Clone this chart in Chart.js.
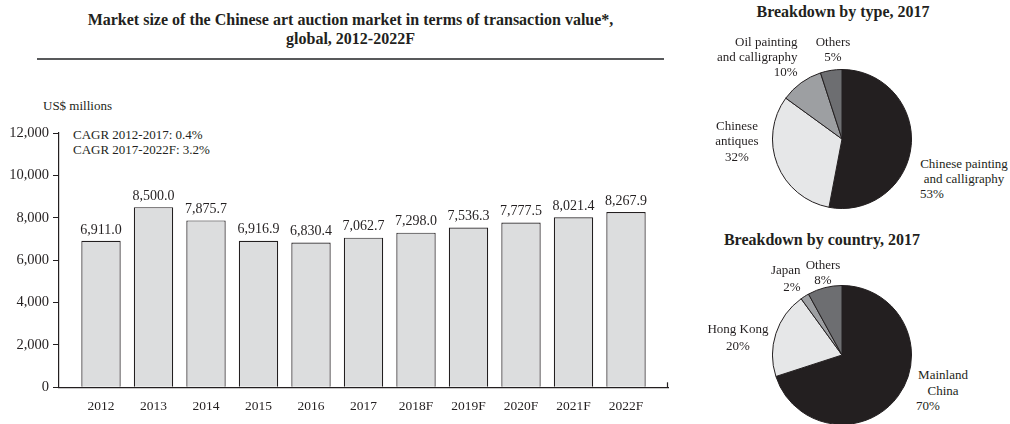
<!DOCTYPE html>
<html>
<head>
<meta charset="utf-8">
<script src="https://cdn.jsdelivr.net/npm/chart.js@4.4.0/dist/chart.umd.min.js"></script>
<style>
  body { margin: 0; width: 1010px; height: 424px; overflow: hidden; background: #fff;
         font-family: 'Liberation Serif', 'Times New Roman', serif; color: #231f20; }
  canvas { position: absolute; }
  .txt { position: absolute; font-size: 13px; line-height: 15px; white-space: nowrap; }
  .ttl { position: absolute; font-weight: bold; font-size: 16px; white-space: nowrap; }
</style>
</head>
<body>

<div class="ttl" style="left:37px; top:10px; width:627px; text-align:center; line-height:19px;">
  Market size of the Chinese art auction market in terms of transaction value*,<br>global, 2012-2022F
</div>
<div style="position:absolute; left:37px; top:58px; width:627px; height:1.5px; background:#58595b;"></div>
<div class="txt" style="left:43px; top:98px;">US$ millions</div>
<div class="txt" style="left:73px; top:126.5px;">CAGR 2012-2017: 0.4%<br>CAGR 2017-2022F: 3.2%</div>

<canvas id="barChart" width="680" height="424" style="left:0; top:0;"></canvas>

<div class="ttl" style="left:743px; top:3px; width:200px; text-align:center;">Breakdown by type, 2017</div>
<canvas id="typeChart" width="140" height="140" style="left:772px; top:69px;"></canvas>
<div class="txt" style="right:212.5px; top:34px; text-align:right;">Oil painting<br>and calligraphy<br>10%</div>
<div class="txt" style="left:803px; top:34px; width:60px; text-align:center;">Others<br>5%</div>
<div class="txt" style="left:697px; top:117.5px; width:80px; text-align:center; line-height:15.7px;">Chinese<br>antiques<br>32%</div>
<div class="txt" style="left:920px; top:155.5px; width:88px; text-align:center; line-height:15.4px;">Chinese painting<br>and calligraphy<br><span style="display:block; text-align:left;">53%</span></div>

<div class="ttl" style="left:712px; top:231px; width:220px; text-align:center;">Breakdown by country, 2017</div>
<canvas id="countryChart" width="140" height="140" style="left:772px; top:285px;"></canvas>
<div class="txt" style="right:209.5px; top:261px; text-align:right; line-height:17px;">Japan<br>2%</div>
<div class="txt" style="left:797px; top:257px; width:52px; text-align:center;">Others<br>8%</div>
<div class="txt" style="left:688px; top:320px; width:100px; text-align:center; line-height:17px;">Hong Kong<br>20%</div>
<div class="txt" style="left:916px; top:367px; width:54px; text-align:center; line-height:15.6px;">Mainland<br>China<br><span style="display:block; text-align:left;">70%</span></div>

<script>
// chart data
const years = ['2012', '2013', '2014', '2015', '2016', '2017', '2018F', '2019F', '2020F', '2021F', '2022F'];
const marketSize = [6911.0, 8500.0, 7875.7, 6916.9, 6830.4, 7062.7, 7298.0, 7536.3, 7777.5, 8021.4, 8267.9];
const yTicks = [0, 2000, 4000, 6000, 8000, 10000, 12000];

const typeLabels = ['Chinese painting and calligraphy', 'Chinese antiques', 'Oil painting and calligraphy', 'Others'];
const typeShares = [53, 32, 10, 5];

const countryLabels = ['Mainland China', 'Hong Kong', 'Japan', 'Others'];
const countryShares = [70, 20, 2, 8];

const ink = '#231f20';
const serif = "'Liberation Serif', 'Times New Roman', serif";

// labels on top of bars
const valueLabels = {
    id: 'valueLabels',
    afterDatasetsDraw(chart) {
        const c = chart.ctx;
        const meta = chart.getDatasetMeta(0);
        c.save();
        c.font = '14px ' + serif;
        c.fillStyle = ink;
        c.textAlign = 'center';
        c.textBaseline = 'bottom';
        meta.data.forEach((bar, i) => {
            const txt = marketSize[i].toLocaleString('en-US', { minimumFractionDigits: 1, maximumFractionDigits: 1 });
            c.fillText(txt, bar.x, bar.y - 4);
        });
        c.restore();
    }
};

// little upward tick at the end of the x axis
const axisEnd = {
    id: 'axisEnd',
    afterDraw(chart) {
        const c = chart.ctx;
        const a = chart.chartArea;
        c.save();
        c.strokeStyle = ink;
        c.lineWidth = 1.2;
        c.beginPath();
        c.moveTo(a.right - 0.5, a.bottom - 5);
        c.lineTo(a.right - 0.5, a.bottom);
        c.stroke();
        c.restore();
    }
};

new Chart(document.getElementById('barChart'), {
    type: 'bar',
    data: {
        datasets: [{
            data: marketSize.map((v, i) => ({ x: i, y: v })),
            backgroundColor: '#dcddde',
            borderColor: ink,
            borderWidth: 1.2,
            barPercentage: 0.75,
            categoryPercentage: 1
        }]
    },
    options: {
        responsive: false,
        animation: false,
        layout: { padding: { top: 133, right: 12, left: 0, bottom: 0 } },
        plugins: { legend: { display: false }, tooltip: { enabled: false } },
        scales: {
            x: {
                type: 'linear',
                min: -0.8,
                max: 10.8,
                offset: false,
                grid: { display: false },
                border: { display: true, color: ink, width: 1.2 },
                afterFit(scale) { scale.height = 36.7; },
                ticks: {
                    stepSize: 1,
                    includeBounds: false,
                    autoSkip: false,
                    maxRotation: 0,
                    padding: 3,
                    color: ink,
                    font: { family: serif, size: 13.5 },
                    callback: v => years[v] ?? ''
                }
            },
            y: {
                min: yTicks[0],
                max: yTicks[yTicks.length - 1],
                afterFit(scale) { scale.width = 59; },
                afterBuildTicks(scale) { scale.ticks = yTicks.map(v => ({ value: v })); },
                grid: { drawOnChartArea: false, drawTicks: true, tickLength: 6, color: ink, lineWidth: 1 },
                border: { display: true, color: ink, width: 1.2 },
                ticks: {
                    padding: 4,
                    color: ink,
                    font: { family: serif, size: 14.5 },
                    callback: v => v.toLocaleString('en-US')
                }
            }
        }
    },
    plugins: [valueLabels, axisEnd]
});

function pieOptions() {
    return {
        responsive: false,
        animation: false,
        layout: { padding: 0 },
        plugins: { legend: { display: false }, tooltip: { enabled: false } }
    };
}

new Chart(document.getElementById('typeChart'), {
    type: 'pie',
    data: {
        labels: typeLabels,
        datasets: [{
            data: typeShares,
            backgroundColor: [ink, '#e6e7e8', '#9d9fa2', '#6d6e71'],
            borderColor: ink,
            borderWidth: 1
        }]
    },
    options: pieOptions()
});

new Chart(document.getElementById('countryChart'), {
    type: 'pie',
    data: {
        labels: countryLabels,
        datasets: [{
            data: countryShares,
            backgroundColor: [ink, '#e6e7e8', '#9d9fa2', '#6d6e71'],
            borderColor: ink,
            borderWidth: 1
        }]
    },
    options: pieOptions()
});
</script>
</body>
</html>
